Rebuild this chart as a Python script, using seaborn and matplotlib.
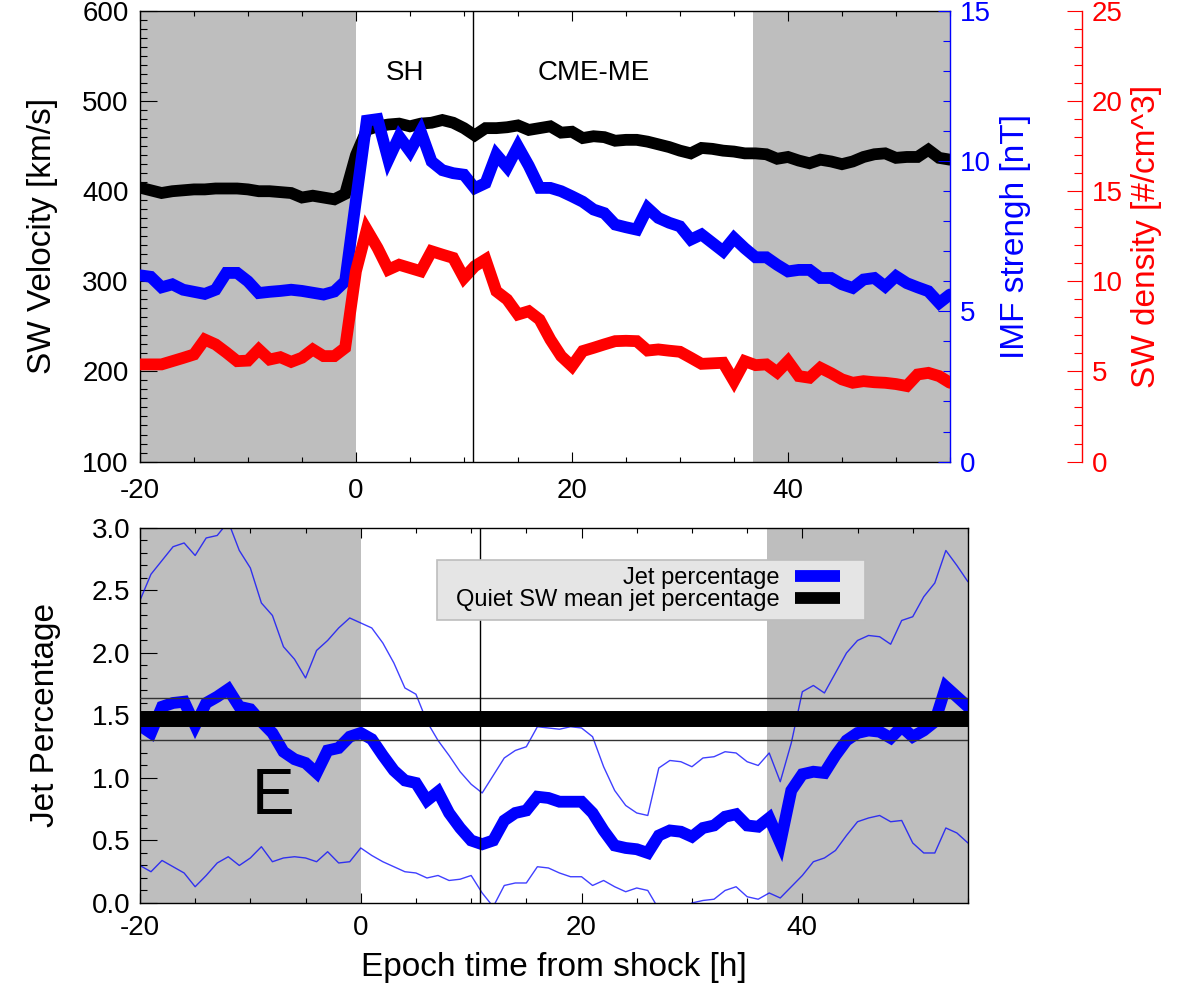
import matplotlib
matplotlib.use("Agg")
import matplotlib.pyplot as plt
import seaborn as sns
from matplotlib.lines import Line2D
from matplotlib.patches import Rectangle
from matplotlib.ticker import MultipleLocator, FormatStrFormatter

# ---------------- data ----------------
hours = list(range(-20, 56))

sw_velocity = [404, 401, 398, 400, 401, 402, 402, 403, 403, 403, 402, 400, 400, 399, 398, 393, 395, 393, 391, 397,
               440, 468, 472, 474, 475, 472, 475, 476, 479, 476,
               470, 462, 470, 470, 471, 473, 468, 470, 472, 465,
               466, 459, 461, 460, 456, 457, 457, 455, 452, 449,
               445, 442, 448, 447, 445, 444, 442, 442, 441, 436,
               438, 434, 431, 435, 433, 430, 433, 438, 441, 442,
               437, 438, 438, 446, 437, 435]

imf_strength = [6.2, 6.15, 5.8, 5.9, 5.72, 5.65, 5.58, 5.72, 6.28, 6.28, 6.0, 5.61, 5.65, 5.68, 5.72, 5.68, 5.62, 5.56, 5.66, 6.0,
                8.7, 11.35, 11.4, 10.05, 10.82, 10.33, 10.99, 9.99, 9.7, 9.6,
                9.55, 9.1, 9.27, 10.22, 9.8, 10.49, 9.85, 9.11, 9.11, 9.0,
                8.83, 8.65, 8.39, 8.27, 7.89, 7.8, 7.72, 8.44, 8.11, 7.95,
                7.83, 7.39, 7.56, 7.28, 7.0, 7.44, 7.1, 6.8, 6.8, 6.55,
                6.33, 6.38, 6.38, 6.11, 6.11, 5.9, 5.78, 6.06, 6.11, 5.83,
                6.17, 5.94, 5.8, 5.67, 5.28, 5.56]

sw_density = [5.39, 5.39, 5.39, 5.57, 5.75, 5.94, 6.77, 6.5, 6.05, 5.57, 5.6, 6.22, 5.66, 5.79, 5.53, 5.76, 6.22, 5.85, 5.85, 6.31,
              10.56, 12.87, 11.85, 10.65, 10.92, 10.74, 10.56, 11.67, 11.48, 11.3,
              10.19, 10.84, 11.21, 9.45, 8.99, 8.16, 8.34, 7.88, 6.77, 5.85,
              5.29, 6.13, 6.31, 6.5, 6.68, 6.7, 6.68, 6.16, 6.22, 6.15,
              6.09, 5.76, 5.42, 5.45, 5.48, 4.46, 5.57, 5.35, 5.39, 4.95,
              5.57, 4.74, 4.65, 5.2, 4.9, 4.56, 4.37, 4.46, 4.4, 4.37,
              4.3, 4.19, 4.83, 4.92, 4.74, 4.37]

jet_pct = [1.42, 1.36, 1.57, 1.60, 1.61, 1.42, 1.60, 1.65, 1.71, 1.57, 1.55, 1.45, 1.36, 1.21, 1.15, 1.12, 1.04, 1.22, 1.24, 1.33,
           1.36, 1.31, 1.18, 1.06, 0.98, 0.96, 0.82, 0.89, 0.72, 0.60,
           0.50, 0.47, 0.50, 0.66, 0.72, 0.74, 0.85, 0.84, 0.81, 0.81,
           0.81, 0.72, 0.58, 0.46, 0.44, 0.43, 0.40, 0.54, 0.58, 0.57,
           0.53, 0.60, 0.62, 0.69, 0.71, 0.62, 0.61, 0.68, 0.48, 0.90,
           1.03, 1.05, 1.04, 1.18, 1.30, 1.36, 1.38, 1.37, 1.32, 1.41,
           1.33, 1.38, 1.45, 1.73, 1.65, 1.57]

jet_upper = [2.42, 2.63, 2.74, 2.85, 2.88, 2.78, 2.92, 2.94, 3.05, 2.82, 2.68, 2.40, 2.30, 2.05, 1.95, 1.80, 2.02, 2.10, 2.20, 2.28,
             2.24, 2.20, 2.08, 1.92, 1.72, 1.67, 1.45, 1.30, 1.18, 1.05,
             0.95, 0.88, 1.02, 1.16, 1.22, 1.25, 1.41, 1.40, 1.39, 1.41,
             1.40, 1.33, 1.09, 0.90, 0.78, 0.72, 0.70, 1.08, 1.14, 1.13,
             1.09, 1.16, 1.17, 1.21, 1.20, 1.13, 1.10, 1.20, 0.97, 1.28,
             1.69, 1.74, 1.68, 1.84, 2.00, 2.10, 2.14, 2.13, 2.07, 2.26,
             2.29, 2.45, 2.56, 2.82, 2.70, 2.57]

jet_lower = [0.30, 0.25, 0.34, 0.29, 0.24, 0.13, 0.22, 0.32, 0.37, 0.30, 0.36, 0.45, 0.33, 0.36, 0.37, 0.36, 0.33, 0.41, 0.32, 0.33,
             0.44, 0.38, 0.33, 0.29, 0.25, 0.24, 0.20, 0.22, 0.18, 0.19,
             0.22, 0.08, -0.03, 0.14, 0.16, 0.16, 0.29, 0.28, 0.24, 0.21,
             0.21, 0.14, 0.18, 0.13, 0.09, 0.12, 0.10, -0.05, -0.10, -0.08,
             0.00, 0.02, 0.03, 0.10, 0.13, 0.05, 0.03, 0.08, 0.04, 0.13,
             0.22, 0.33, 0.36, 0.42, 0.54, 0.65, 0.68, 0.70, 0.65, 0.66,
             0.48, 0.40, 0.40, 0.60, 0.56, 0.48]

quiet_mean = 1.474
quiet_low = 1.305
quiet_high = 1.642

shock_time = 0
me_start = 10.8
me_end = 36.8
t_min, t_max = -20, 55

region_names = ["SH", "CME-ME"]
region_centers = [4.5, 22.0]
legend_labels = ["Jet percentage", "Quiet SW mean jet percentage"]
panel_letter = "E"

# ---------------- style ----------------
sns.set_theme(style="ticks", rc={
    "axes.edgecolor": "black", "text.color": "black", "axes.labelcolor": "black",
    "xtick.color": "black", "ytick.color": "black", "axes.linewidth": 1.0,
})
plt.rcParams["font.family"] = ["Liberation Sans", "DejaVu Sans"]
plt.rcParams["axes.unicode_minus"] = False

TICK_FS = 20
LABEL_FS = 24
SHADE = "#bebebe"
LW = 8.5

fig = plt.figure(figsize=(11.83, 9.9), dpi=100)

# ================= top panel =================
ax = fig.add_axes([0.1183, 0.5338, 0.6847, 0.4551])
ax2 = ax.twinx()
ax3 = ax.twinx()
ax3.spines["right"].set_position(("axes", 1.163))

ax.axvspan(t_min, shock_time, color=SHADE, lw=0, zorder=0)
ax.axvspan(me_end, t_max, color=SHADE, lw=0, zorder=0)

sns.lineplot(x=hours, y=sw_velocity, ax=ax, color="black", linewidth=LW,
             errorbar=None, legend=False, solid_joinstyle="miter")
sns.lineplot(x=hours, y=imf_strength, ax=ax2, color="blue", linewidth=LW,
             errorbar=None, legend=False, solid_joinstyle="miter")
sns.lineplot(x=hours, y=sw_density, ax=ax3, color="red", linewidth=LW,
             errorbar=None, legend=False, solid_joinstyle="miter")
ax3.axvline(me_start, color="black", lw=1.0, zorder=10)

for name, xc in zip(region_names, region_centers):
    ax.text(xc, 531, name, ha="center", va="center", fontsize=TICK_FS, zorder=5)

ax.set_xlim(t_min, t_max)
ax.set_ylim(100, 600)
ax2.set_ylim(0, 15)
ax3.set_ylim(0, 25)

ax.xaxis.set_major_locator(MultipleLocator(20))
ax.xaxis.set_minor_locator(MultipleLocator(5))
ax.yaxis.set_major_locator(MultipleLocator(100))
ax.yaxis.set_minor_locator(MultipleLocator(10))
ax2.yaxis.set_major_locator(MultipleLocator(5))
ax2.yaxis.set_minor_locator(MultipleLocator(1))
ax3.yaxis.set_major_locator(MultipleLocator(5))
ax3.yaxis.set_minor_locator(MultipleLocator(1))

ax.tick_params(axis="x", which="both", direction="in", top=True, bottom=True,
               labelsize=TICK_FS, pad=12, width=0.8)
ax.tick_params(axis="x", which="major", length=7)
ax.tick_params(axis="x", which="minor", length=3.5)
ax.tick_params(axis="y", which="both", direction="in", left=True, right=False,
               labelsize=TICK_FS, pad=8, width=0.8)
ax.tick_params(axis="y", which="major", length=12)
ax.tick_params(axis="y", which="minor", length=5)

ax2.tick_params(axis="y", which="both", direction="in", colors="blue",
                labelsize=TICK_FS, pad=7, width=0.8)
ax2.tick_params(axis="y", which="major", length=9)
ax2.tick_params(axis="y", which="minor", length=5)
ax3.tick_params(axis="y", which="both", direction="in", colors="red",
                labelsize=TICK_FS, pad=7, width=0.8)
ax3.tick_params(axis="y", which="major", length=11)
ax3.tick_params(axis="y", which="minor", length=6)

ax.spines["right"].set_visible(False)
for a in (ax2, ax3):
    for s in ("left", "top", "bottom"):
        a.spines[s].set_visible(False)
ax2.spines["right"].set_color("blue")
ax3.spines["right"].set_color("red")

ax.set_ylabel("SW Velocity [km/s]", fontsize=LABEL_FS)
ax.yaxis.set_label_coords(-0.101, 0.5)
ax2.set_ylabel("IMF strengh [nT]", fontsize=LABEL_FS, color="blue")
ax2.yaxis.set_label_coords(1.062, 0.5)
ax3.set_ylabel("SW density [#/cm^3]", fontsize=LABEL_FS, color="red")
ax3.yaxis.set_label_coords(1.2235, 0.5)
ax.set_xlabel("")

# ================= bottom panel =================
bx = fig.add_axes([0.1183, 0.0879, 0.6999, 0.3788])
bx.axvspan(t_min, shock_time, color=SHADE, lw=0, zorder=0)
bx.axvspan(me_end, t_max, color=SHADE, lw=0, zorder=0)

sns.lineplot(x=hours, y=jet_upper, ax=bx, color="blue", linewidth=1.0, alpha=0.75,
             errorbar=None, legend=False)
sns.lineplot(x=hours, y=jet_lower, ax=bx, color="blue", linewidth=1.0, alpha=0.75,
             errorbar=None, legend=False)
sns.lineplot(x=hours, y=jet_pct, ax=bx, color="blue", linewidth=LW,
             errorbar=None, legend=False, solid_joinstyle="miter")
bx.axhline(quiet_low, color="#333333", lw=1.0, zorder=3)
bx.axhline(quiet_high, color="#333333", lw=1.0, zorder=3)
bx.axhline(quiet_mean, color="black", lw=11.5, zorder=4)
bx.axvline(me_start, color="black", lw=1.0, zorder=5)

bx.text(-7.9, 0.85, panel_letter, ha="center", va="center", fontsize=46, zorder=5)

bx.set_xlim(t_min, t_max)
bx.set_ylim(0, 3.0)
bx.xaxis.set_major_locator(MultipleLocator(20))
bx.xaxis.set_minor_locator(MultipleLocator(5))
bx.yaxis.set_major_locator(MultipleLocator(0.5))
bx.yaxis.set_minor_locator(MultipleLocator(0.1))
bx.yaxis.set_major_formatter(FormatStrFormatter("%.1f"))

bx.tick_params(axis="x", which="both", direction="in", top=True, bottom=True,
               labelsize=TICK_FS, pad=9, width=0.8)
bx.tick_params(axis="x", which="major", length=7)
bx.tick_params(axis="x", which="minor", length=3.5)
bx.tick_params(axis="y", which="both", direction="in", left=True, right=False,
               labelsize=TICK_FS, pad=7, width=0.8)
bx.tick_params(axis="y", which="major", length=12)
bx.tick_params(axis="y", which="minor", length=5)

bx.set_ylabel("Jet Percentage", fontsize=LABEL_FS)
bx.yaxis.set_label_coords(-0.0954, 0.5)
bx.set_xlabel("Epoch time from shock [h]", fontsize=LABEL_FS)
bx.xaxis.set_label_coords(0.5, -0.13)

bx.add_patch(Rectangle((0.3587, 0.7547), 0.517, 0.16, transform=bx.transAxes,
                       facecolor="#e5e5e5", edgecolor="#bdbdbd", lw=1.2, zorder=6))
handles = [Line2D([], [], color="blue", lw=LW, solid_capstyle="butt"),
           Line2D([], [], color="black", lw=LW, solid_capstyle="butt")]
leg = bx.legend(handles, legend_labels, markerfirst=False, frameon=False,
                loc="center right", bbox_to_anchor=(0.86, 0.836),
                handlelength=1.93, handletextpad=0.62, labelspacing=0.0,
                fontsize=17, borderpad=0)
leg.set_zorder(7)

fig.savefig("out.png", dpi=100)
